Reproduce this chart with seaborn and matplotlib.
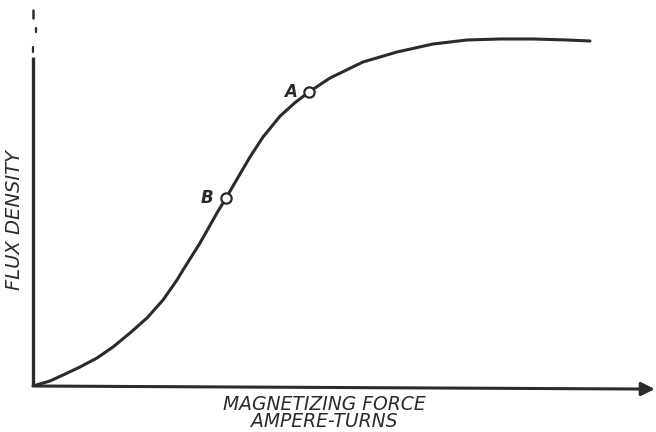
import numpy as np
import pandas as pd
import seaborn as sns
import matplotlib.pyplot as plt

# magnetization curve (arbitrary units, 0-100)
ampere_turns = [0, 2.73, 4.82, 7.54, 10.27, 12.84, 15.57, 18.30, 20.87, 23.11,
                24.08, 26.81, 29.53, 30.98, 33.23, 34.83, 36.92, 39.65, 42.05,
                44.30, 47.67, 52.97, 58.43, 64.21, 69.66, 74.96, 80.26, 85.71, 89.41]
flux_density = [0, 1.30, 2.85, 4.92, 7.25, 10.10, 13.73, 17.62, 22.28, 27.46,
                30.05, 37.05, 44.82, 48.70, 54.92, 59.33, 64.51, 69.90, 73.40,
                76.17, 79.79, 83.94, 86.53, 88.60, 89.64, 89.90, 89.90, 89.64, 89.38]

point_names = ["A", "B"]
point_x = [44.30, 30.98]
point_y = [76.17, 48.70]

ink = "#2b2b2b"

df = pd.DataFrame({"H": ampere_turns, "B": flux_density})
pts = pd.DataFrame({"name": point_names, "H": point_x, "B": point_y})

sns.set_style("white")
plt.rcParams['font.family'] = ['DejaVu Sans']

fig = plt.figure(figsize=(6.56, 4.32), dpi=100)
ax = fig.add_axes([33/656, 46/432, 623/656, 386/432])

sns.lineplot(data=df, x="H", y="B", sort=False, color=ink, lw=2.2, ax=ax,
             solid_joinstyle="round", solid_capstyle="round")
sns.scatterplot(data=pts, x="H", y="B", s=55, color="white", edgecolor=ink,
                linewidth=1.6, zorder=5, ax=ax)

# label the two points, to the left of each circle
for name, hx, by in zip(pts["name"], pts["H"], pts["B"]):
    ax.text(hx - 3.0, by, name, ha="center", va="center", fontsize=12,
            style="italic", fontweight="bold", color=ink)

# axes drawn by hand: vertical line + arrow along the bottom
ax.plot([0, 0], [0, 85.2], color=ink, lw=2.4, solid_capstyle="butt", clip_on=False)
ax.plot([0, 0], [86.5, 87.8], color=ink, lw=1.6, clip_on=False)
ax.plot([0.5, 0.5], [91.7, 92.7], color=ink, lw=1.6, clip_on=False)
ax.plot([0, 0], [95.3, 97.4], color=ink, lw=1.8, clip_on=False)
ax.annotate("", xy=(99.8, -0.8), xytext=(0, 0), annotation_clip=False,
            arrowprops=dict(arrowstyle="-|>", lw=2.2, color=ink,
                            mutation_scale=20, shrinkA=0, shrinkB=0))

ax.set_xlim(0, 100)
ax.set_ylim(0, 100)
ax.set_xlabel("")
ax.set_ylabel("")
ax.set_xticks([])
ax.set_yticks([])
sns.despine(ax=ax, left=True, bottom=True)
ax.patch.set_alpha(0)

fig.text(15/656, 1 - 220/432, "FLUX DENSITY", rotation=90, ha="center", va="center",
         fontsize=14, style="italic", color=ink)
fig.text(324/656, 1 - 413/432, "MAGNETIZING FORCE\nAMPERE-TURNS", ha="center",
         va="center", multialignment="center", linespacing=0.88,
         fontsize=13.5, style="italic", color=ink)

fig.savefig("out.png", dpi=100)
